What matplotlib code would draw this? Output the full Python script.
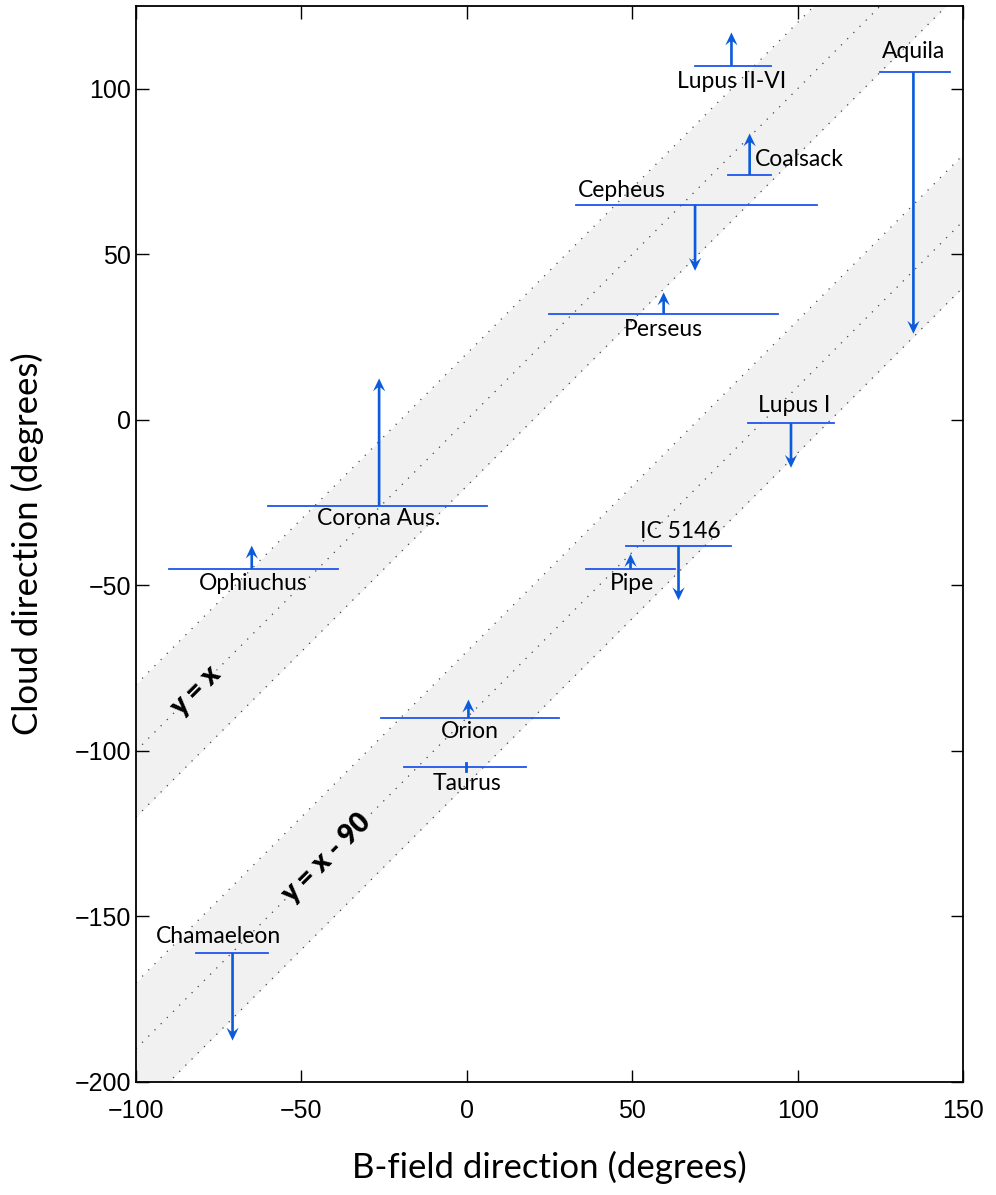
import numpy as np
import matplotlib
matplotlib.use("Agg")
import matplotlib.pyplot as plt

# cloud data: B-field range (min, max), cloud direction, arrow x and arrow tip
clouds = ["Lupus II-VI", "Aquila", "Coalsack", "Cepheus", "Perseus", "Lupus I",
          "Corona Aus.", "Ophiuchus", "IC 5146", "Pipe", "Orion", "Taurus", "Chamaeleon"]
bfield_lo = [69, 125, 79, 33, 25, 85, -60, -90, 48, 36, -26, -19, -82]
bfield_hi = [92, 146, 92, 106, 94, 111, 6, -39, 80, 63, 28, 18, -60]
cloud_dir = [107, 105, 74, 65, 32, -1, -26, -45, -38, -45, -90, -105, -161]
arrow_x = [80, 135, 85.5, 69, 59.5, 98, -26.5, -65, 64, 49.5, 0.5, -0.3, -70.8]
arrow_end = [117, 26, 86.5, 45, 38.5, -14.5, 12.5, -38, -54.5, -40.5, -84.5, -105, -187.5]

# label anchor points (text center)
label_xy = {
    "Lupus II-VI": (80, 102.3), "Aquila": (135, 111.3), "Coalsack": (87, 78.5),
    "Cepheus": (47, 69.3), "Perseus": (59.5, 27.3), "Lupus I": (99, 4.2),
    "Corona Aus.": (-26.5, -29.8), "Ophiuchus": (-64.5, -49.5), "IC 5146": (64.5, -33.6),
    "Pipe": (50, -49.5), "Orion": (1, -94), "Taurus": (0, -110), "Chamaeleon": (-75, -156.2),
}
band_offsets = [0, -90]
band_halfwidth = 20
band_labels = ["y = x", "y = x - 90"]
band_label_x = [-82, -42.5]

line_col = "#1f55ee"
arrow_col = "#0b5bdb"
label_font = "Lato"

plt.rcParams["font.family"] = ["Liberation Sans", "DejaVu Sans"]

fig = plt.figure(figsize=(9.96, 11.95), dpi=100)
ax = fig.add_axes([0.1365, 0.0946, 0.8304, 0.9004])

xs = np.array([-100, 150])
for off, lab, lx in zip(band_offsets, band_labels, band_label_x):
    ax.fill_between(xs, xs + off - band_halfwidth, xs + off + band_halfwidth,
                    color="#f1f1f1", lw=0, zorder=0)
    for d in (-band_halfwidth, 0, band_halfwidth):
        ax.plot(xs, xs + off + d, color="#444444", ls=(0, (1, 6)), lw=0.9, zorder=1)
    ax.text(lx, lx + off, lab, rotation=45, ha="center", va="center",
            fontsize=20, fontweight="heavy", family=label_font, zorder=4,
            bbox=dict(facecolor="#f1f1f1", edgecolor="none", pad=0.3))

for i, name in enumerate(clouds):
    ax.plot([bfield_lo[i], bfield_hi[i]], [cloud_dir[i], cloud_dir[i]],
            color=line_col, lw=1.3, zorder=3)
    dy = arrow_end[i] - cloud_dir[i]
    if abs(dy) < 1:
        ax.plot([arrow_x[i], arrow_x[i]], [cloud_dir[i] - 1.2, cloud_dir[i] + 1.2],
                color=arrow_col, lw=2, zorder=3)
    else:
        ax.arrow(arrow_x[i], cloud_dir[i], 0, dy, width=0.8, head_width=3.7,
                 head_length=3.9, overhang=0.3, length_includes_head=True,
                 color=arrow_col, lw=0, zorder=3)
    tx, ty = label_xy[name]
    ha = "left" if name == "Coalsack" else "center"
    ax.text(tx, ty, name, ha=ha, va="center", fontsize=16.5, family=label_font, zorder=5)

ax.set_xlim(-100, 150)
ax.set_ylim(-200, 125)
ax.set_xticks([-100, -50, 0, 50, 100, 150])
ax.set_yticks([-200, -150, -100, -50, 0, 50, 100])
ax.tick_params(direction="in", length=9, width=1, top=True, right=True, labelsize=18)
ax.tick_params(axis="x", pad=12)
for sp in ax.spines.values():
    sp.set_linewidth(1.3)

ax.set_xlabel("B-field direction (degrees)", fontsize=25, family=label_font, labelpad=20)
ax.set_ylabel("Cloud direction (degrees)", fontsize=25, family=label_font, labelpad=22)

fig.savefig("out.png", dpi=100)
